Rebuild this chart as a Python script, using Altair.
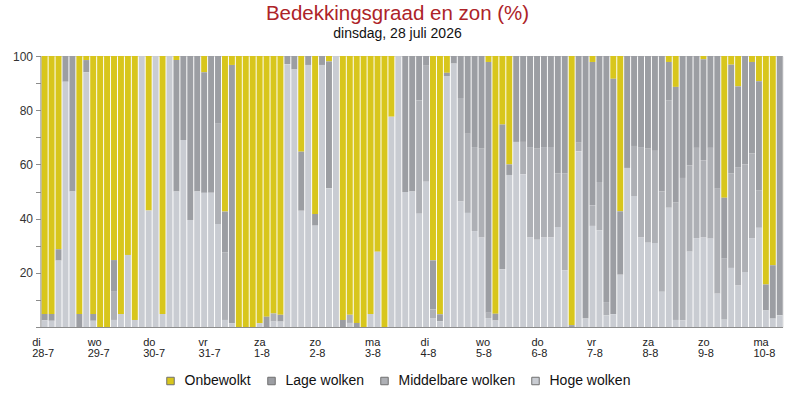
import altair as alt
import pandas as pd

# ---- data ----
day_names = ["di", "wo", "do", "vr", "za", "zo", "ma", "di", "wo", "do", "vr", "za", "zo", "ma"]
day_dates = ["28-7", "29-7", "30-7", "31-7", "1-8", "2-8", "3-8", "4-8", "5-8", "6-8", "7-8", "8-8", "9-8", "10-8"]

categories = ["Onbewolkt", "Lage wolken", "Middelbare wolken", "Hoge wolken"]
colors = ["#d8c61c", "#9c9ea3", "#aeb0b5", "#c9ccd2"]

onbewolkt = [95.2, 95.2, 71.3, 0, 0, 95.2, 1.5, 95.2,
             100, 100, 75.3, 95.2, 73.4, 97.4, 0, 57,
             0, 95.2, 0, 1.5, 0, 0, 0, 6,
             0, 0, 57.4, 3.3, 100, 100, 100, 98.6,
             96.2, 95, 95.5, 0, 0, 35.3, 0, 58.3,
             0, 2, 0, 97.4, 95.5, 98.5, 100, 95.2,
             72.2, 100, 22.4, 0, 0, 0, 0, 0,
             75.4, 95.3, 6.2, 0, 0, 0, 0, 0,
             2.2, 95.1, 25.3, 40, 0, 0, 0, 0,
             0, 0, 0, 0, 99.3, 0, 0, 2.2,
             0, 0, 8.4, 57.3, 0, 0, 0, 0,
             0, 0, 2.2, 11.4, 0, 0, 0, 1.2,
             0, 0, 52.3, 3.2, 11.2, 0, 2.2, 9.3,
             84.3, 77.2, 0]
lage = [2.3, 2.5, 4.2, 9.5, 50, 4.8, 4.5, 2.5,
        0, 0, 11.7, 0, 0, 0, 0, 0,
        0, 0, 0, 48.5, 31, 60.5, 50, 44.5,
        50.5, 25, 15, 95.3, 0, 0, 0, 0,
        3.8, 0, 2.5, 3, 5, 21.8, 3.3, 4.3,
        3.3, 46.8, 0, 2.6, 0, 1.5, 0, 0,
        0, 0, 0, 0, 50.2, 50, 16.4, 3.6,
        18.1, 2.6, 1.2, 2.8, 15.5, 28.7, 33.6, 34.2,
        92.5, 2.5, 53.4, 3.9, 31.7, 31.7, 33.6, 34.2,
        33.6, 33.6, 43.4, 43.4, 0.7, 32, 96.9, 52.9,
        46.5, 90.8, 86.9, 23.4, 41.3, 33.2, 33.6, 34.2,
        35, 50, 14.1, 42.7, 45, 40.4, 33.9, 37.3,
        33.9, 49, 22.5, 40.2, 29.8, 40, 33.8, 40.2,
        9.6, 19.7, 95.7]
middelbare = [0, 0, 0, 0, 0, 0, 0, 0,
              0, 0, 10.4, 0, 0, 0, 0, 0,
              0, 0, 0, 0, 0, 0, 0, 0,
              0, 37, 25, 0, 0, 0, 0, 0,
              0, 3, 0, 0, 0, 0, 0, 0,
              0, 0, 0, 0, 3, 0, 0, 0,
              0, 0, 0, 0, 0, 0, 41.8, 42.8,
              3.2, 0, 0, 0, 38.2, 29.2, 31, 32.8,
              2, 0, 0, 0, 0, 12, 33.4, 33.6,
              33.4, 33.4, 19.7, 35.7, 0, 3.2, 0, 7.6,
              17.8, 4.9, 0, 0, 0, 18.5, 33.4, 34.7,
              34, 37, 39.7, 43.3, 52.5, 31.8, 33.3, 28.5,
              33.5, 38.7, 22.5, 34.8, 43.7, 39.7, 31.2, 13.9,
              0, 0, 0]
hoge = [2.5, 2.3, 24.5, 90.5, 50, 0, 94, 2.3,
        0, 0, 2.6, 4.8, 26.6, 2.6, 100, 43,
        100, 4.8, 100, 50, 69, 39.5, 50, 49.5,
        49.5, 38, 2.6, 1.4, 0, 0, 0, 1.4,
        0, 2, 2, 97, 95, 42.9, 96.7, 37.4,
        96.7, 51.2, 100, 0, 1.5, 0, 0, 4.8,
        27.8, 0, 77.6, 100, 49.8, 50, 41.8, 53.6,
        3.3, 2.1, 92.6, 97.2, 46.3, 42.1, 35.4, 33,
        3.3, 2.4, 21.3, 56.1, 68.3, 56.3, 33, 32.2,
        33, 33, 36.9, 20.9, 0, 64.8, 3.1, 37.3,
        35.7, 4.3, 4.7, 19.3, 58.7, 48.3, 33, 31.1,
        31, 13, 44, 2.6, 2.5, 27.8, 32.8, 33,
        32.6, 12.3, 2.7, 21.8, 15.3, 20.3, 32.8, 36.6,
        6.1, 3.1, 4.3]

series = [onbewolkt, lage, middelbare, hoge]
stack_rank = {"Onbewolkt": 3, "Lage wolken": 2, "Middelbare wolken": 1, "Hoge wolken": 0}

rows = []
for cat, vals in zip(categories, series):
    for i, v in enumerate(vals):
        rows.append({"idx": i, "cat": cat, "value": v, "rank": stack_rank[cat]})
df = pd.DataFrame(rows)

n_bars = len(onbewolkt)
tick_values = [8 * k for k in range(len(day_names))]
label_js = "[" + ",".join("['%s','%s']" % (a, b) for a, b in zip(day_names, day_dates)) + "][round(datum.value/8)]"

FONT = "Liberation Sans"

chart = alt.Chart(df).transform_stack(
    stack="value", groupby=["idx"], as_=["s0", "s1"], offset="normalize",
    sort=[alt.SortField("rank", order="ascending")]
).transform_calculate(
    y0="datum.s0*100", y1="datum.s1*100", xa="datum.idx", xb="datum.idx + 0.86"
).mark_bar().encode(
    x=alt.X("xa:Q",
            scale=alt.Scale(domain=[-0.17, n_bars - 0.17], nice=False, zero=False),
            axis=alt.Axis(values=tick_values, labelExpr=label_js, title=None, ticks=False,
                          grid=False, domainColor="#8c8c8c", labelAlign="left",
                          labelOffset=-10,
                          labelFontSize=11, labelLineHeight=11, labelPadding=9,
                          labelBaseline="top", labelColor="#222", labelFont=FONT,
                          labelOverlap=False, labelBound=False, labelFlush=False)),
    x2="xb:Q",
    y=alt.Y("y0:Q", scale=alt.Scale(domain=[0, 100], nice=False),
            axis=alt.Axis(values=list(range(0, 101, 10)),
                          labelExpr="(datum.value % 20 == 0 && datum.value > 0) ? datum.label : ''",
                          title=None, grid=False, tickSize=5, tickColor="#8c8c8c",
                          domainColor="#8c8c8c", labelFontSize=12, labelColor="#333",
                          labelPadding=3, labelFont=FONT)),
    y2="y1:Q",
    color=alt.Color("cat:N", scale=alt.Scale(domain=categories, range=colors),
                    legend=alt.Legend(title=None, orient="none", legendX=123, legendY=318,
                                      direction="horizontal", symbolType="square",
                                      symbolSize=56, symbolStrokeColor="#707070",
                                      symbolStrokeWidth=1, labelFontSize=14, labelFont=FONT,
                                      labelColor="#111", columnPadding=13, labelOffset=7,
                                      padding=0)),
).properties(
    width=742, height=271,
    title=alt.Title("Bedekkingsgraad en zon (%)", subtitle="dinsdag, 28 juli 2026",
                    color="#ad2328", fontSize=20.5, fontWeight="normal", font=FONT,
                    subtitleFont=FONT, subtitleFontSize=14, subtitleColor="#111",
                    anchor="middle", offset=9, subtitlePadding=3, dx=-14),
    autosize=alt.AutoSizeParams(type="none"),
    padding={"left": 40.5, "top": 56, "right": 17.5, "bottom": 73},
).configure_view(stroke=None).configure(font=FONT, background="white")

chart.save("out.html", embed_options={"renderer": "svg", "actions": False})
